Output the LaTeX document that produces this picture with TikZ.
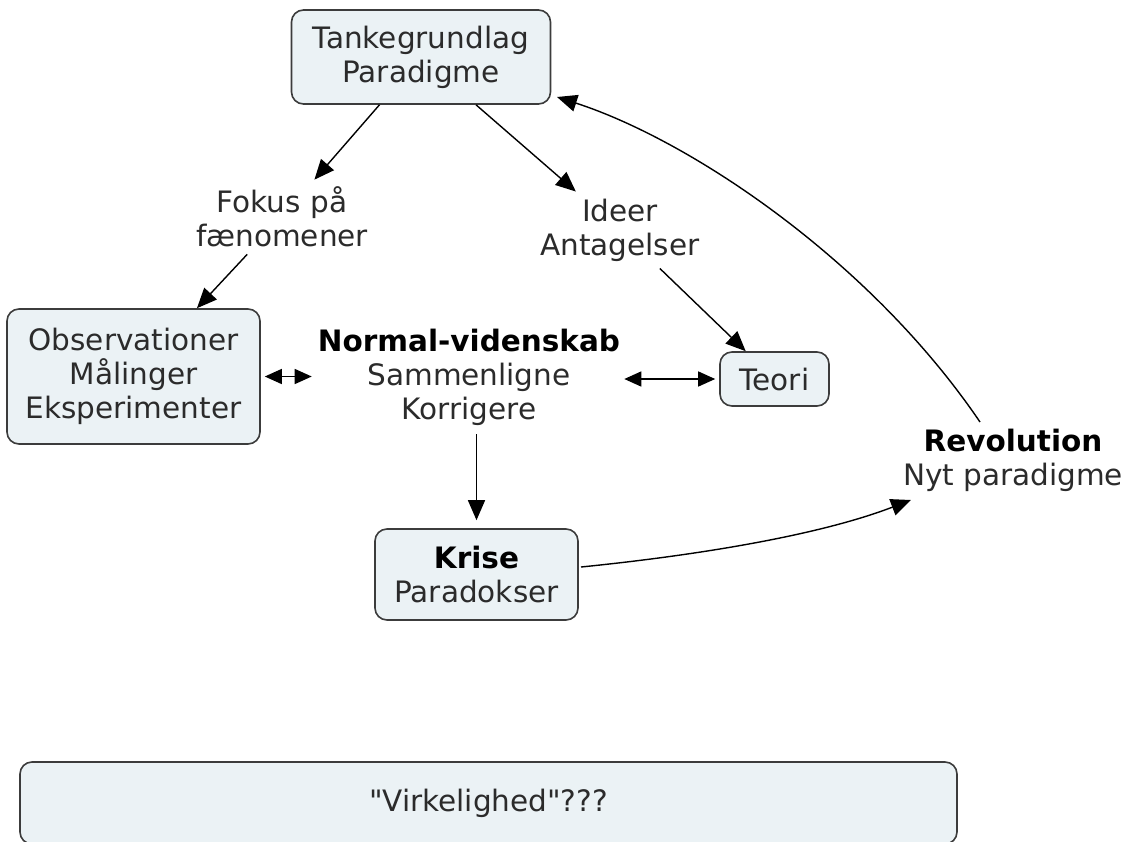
\documentclass[tikz,border=0pt]{standalone}
\usepackage{fontspec}
\setmainfont{DejaVu Sans}
\newfontfamily\qfont{DejaVu Sans}[Ligatures=TeXOff]
\usetikzlibrary{arrows.meta}
\definecolor{boxfill}{HTML}{EBF2F5}
\definecolor{boxline}{HTML}{3C3C3C}
\definecolor{txt}{HTML}{2B2B2B}
\begin{document}
\begin{tikzpicture}[x=1pt,y=-1pt,
  font=\fontsize{29.5}{34}\selectfont,
  box/.style={draw=boxline, fill=boxfill, line width=1.6pt, rounded corners=12pt,
    align=center, text=txt, inner sep=0pt},
  lbl/.style={align=center, text=txt, inner sep=7pt},
  arr/.style={-{Triangle[length=20pt,width=17pt]}, line width=1.4pt, draw=black},
  dbl/.style={{Triangle[length=17pt,width=15pt]}-{Triangle[length=17pt,width=15pt]}, line width=1.4pt, draw=black}]
\clip (0,0) rectangle (1130,841);
\fill[white] (0,0) rectangle (1130,841);

\node[box, minimum width=259pt, minimum height=94pt] (top) at (421,57) {Tankegrundlag\\Paradigme};
\node[box, minimum width=253pt, minimum height=135pt] (obs) at (133.5,376.5) {Observationer\\Målinger\\Eksperimenter};
\node[box, minimum width=109pt, minimum height=54pt] (teori) at (774.5,379) {Teori};
\node[box, minimum width=203pt, minimum height=91pt] (krise) at (476.5,574.5) {{\bfseries\color{black}Krise}\\Paradokser};
\node[box, minimum width=937pt, minimum height=82pt] (virk) at (488.5,803) {\qfont "Virkelighed"???};

\node[lbl] (fokus) at (282,217) {Fokus på\\fænomener};
\node[lbl] (ideer) at (620,230) {Ideer\\Antagelser};
\node[lbl] (normal) at (469,377) {{\bfseries\color{black}Normal-videnskab}\\Sammenligne\\Korrigere};
\node[lbl] (rev) at (1013,460) {{\bfseries\color{black}Revolution}\\Nyt paradigme};

\coordinate (kout) at (581,567);
\coordinate (rin) at (911,500);
\coordinate (rout) at (980,422);
\coordinate (tin) at (557,97);

\draw[arr] (top) -- (fokus);
\draw[arr] (fokus) -- (obs);
\draw[arr] (top) -- (ideer);
\draw[arr] (ideer) -- (teori);
\draw[dbl, shorten <=4pt, shorten >=-1pt] (obs.east) -- (obs.east -| normal.west);
\draw[dbl, shorten <=-3pt, shorten >=4pt] (teori.west -| normal.east) -- (teori.west);
\draw[arr, shorten <=2pt, shorten >=8pt] (normal.south -| krise.north) -- (krise.north);
\draw[arr] (kout) .. controls (700,555) and (820,535) .. (rin);
\draw[arr] (rout) .. controls (870,260) and (690,140) .. (tin);
\end{tikzpicture}
\end{document}
